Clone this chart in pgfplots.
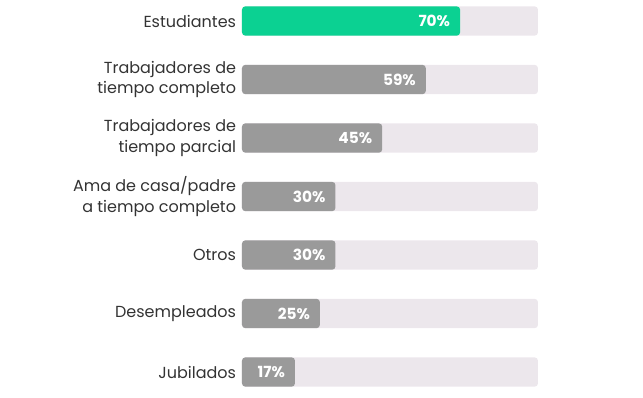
\documentclass[border=0pt]{standalone}
\usepackage{pgfplots}
\pgfplotsset{compat=1.18}
\usepackage{fontspec}
\setmainfont{Poppins}
\definecolor{trackc}{HTML}{ECE7EC}
\definecolor{greenc}{HTML}{0BD192}
\definecolor{grayc}{HTML}{9A9A9A}
\definecolor{txt}{HTML}{333333}
\begin{document}
\begin{tikzpicture}
\useasboundingbox (0,0) rectangle (482.25pt,297.75pt);
\begin{axis}[
  at={(181.5pt,0pt)}, anchor=south west,
  scale only axis, width=222pt, height=297.75pt,
  xbar, bar shift=0pt, bar width=22pt,
  xmin=0, xmax=95,
  ymin=-0.359, ymax=6.427, y dir=reverse,
  axis line style={draw=none}, tick style={draw=none},
  xtick=\empty,
  ytick={0,1,2,3,4,5,6},
  yticklabels={Estudiantes,{Trabajadores de\\tiempo completo},{Trabajadores de\\tiempo parcial},{Ama de casa/padre\\a tiempo completo},Otros,Desempleados,Jubilados},
  yticklabel style={align=right, inner sep=0pt, text=txt, font=\fontsize{12}{15.4}\selectfont},
  yticklabel shift=0pt,
  /pgf/number format/assume math mode=true,
  clip=false,
]
\addplot[fill=trackc, draw=none, rounded corners=2.5pt] coordinates {(95,0) (95,1) (95,2) (95,3) (95,4) (95,5) (95,6)};
\addplot[fill=greenc, draw=none, rounded corners=2.5pt,
  nodes near coords={\pgfmathprintnumber{\pgfplotspointmeta}\%},
  every node near coord/.append style={anchor=east, xshift=-4pt, text=white, font=\fontsize{11.5}{13}\selectfont\bfseries}]
  coordinates {(70,0)};
\addplot[fill=grayc, draw=none, rounded corners=2.5pt,
  nodes near coords={\pgfmathprintnumber{\pgfplotspointmeta}\%},
  every node near coord/.append style={anchor=east, xshift=-4pt, text=white, font=\fontsize{11.5}{13}\selectfont\bfseries}]
  coordinates {(59,1) (45,2) (30,3) (30,4) (25,5) (17,6)};
\end{axis}
\end{tikzpicture}
\end{document}
